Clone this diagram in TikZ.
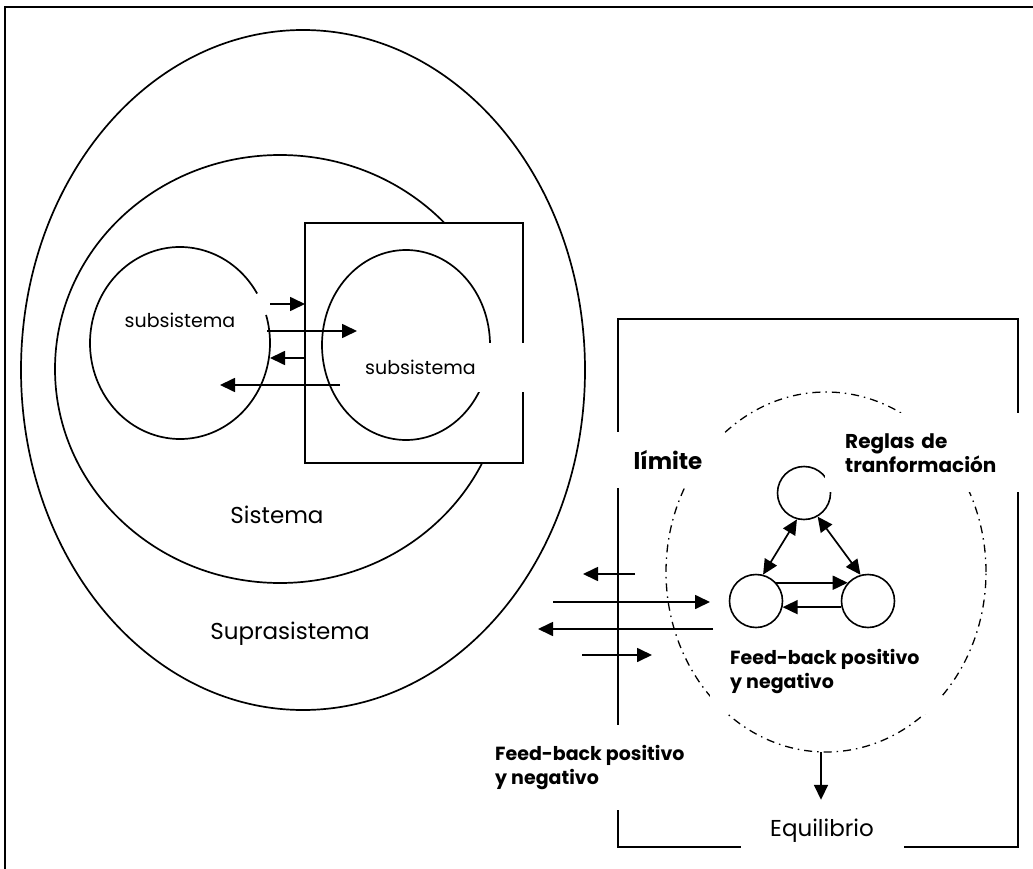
\documentclass[tikz,border=0pt]{standalone}
\usepackage{fontspec}
\setmainfont{Poppins}
\usetikzlibrary{arrows.meta}

\begin{document}
\begin{tikzpicture}[x=1pt, y=-1pt,
    thickline/.style={line width=1.7pt},
    flow/.style={line width=1.7pt, -{Triangle[length=15pt, width=14pt]}},
    twoway/.style={line width=1.7pt, {Triangle[length=15pt, width=14pt]}-{Triangle[length=15pt, width=14pt]}},
    ring/.style={draw, circle, line width=1.6pt, minimum size=53pt, inner sep=0pt},
    limitline/.style={line width=1.3pt, dash pattern=on 8pt off 5pt on 1.5pt off 5pt},
    labelbox/.style={fill=white, inner sep=20pt, align=left, font=\bfseries\fontsize{20}{24}\selectfont},
    fbtext/.style={font=\bfseries\fontsize{19}{24}\selectfont},
    bigtext/.style={font=\fontsize{23}{28}\selectfont},
    smalltext/.style={font=\fontsize{19}{22}\selectfont}
  ]
  \useasboundingbox (0,0) rectangle (1033,869);
  % frame
  \draw[line width=2pt] (5,869) -- (5,7) -- (1033,7);

  % suprasistema and sistema
  \draw[thickline] (303,370) ellipse [x radius=282pt, y radius=340pt];
  \draw[thickline] (280,369) ellipse [x radius=225pt, y radius=214pt];
  \node[bigtext] (supra) at (290,634) {Suprasistema};
  \node[bigtext] (sist) at (277,515) {Sistema};

  % the two subsistemas
  \draw[thickline, fill=white] (305,223) rectangle (523,463);
  \draw[thickline] ([shift={(31:90pt and 96pt)}]180,343)
    arc[start angle=31, end angle=377, x radius=90pt, y radius=96pt];
  \draw[thickline] (406,345) ellipse [x radius=84pt, y radius=95pt];
  \node[smalltext] (sub1) at (180,320) {subsistema};
  \node[smalltext, fill=white, anchor=west, text width=143pt, inner xsep=20pt,
        minimum height=49pt] (sub2) at (345,367) {subsistema};

  \foreach \ya/\xa/\xb in {304/270/305, 331/267/357, 358/305/270, 385/340/220}
    \draw[flow] (\xa,\ya) -- (\xb,\ya);

  % right system with its limit
  \draw[thickline] (618,319) rectangle (1018,847);
  \draw[limitline] (826,572) ellipse [x radius=160pt, y radius=180pt];
  \node[ring] (rtop)   at (804,493) {};
  \node[ring] (rleft)  at (756,601) {};
  \node[ring] (rright) at (868,601) {};

  \node[labelbox, font=\bfseries\fontsize{23}{28}\selectfont, inner sep=0pt,
        minimum width=113pt, minimum height=56pt] (lim) at (668,460) {límite};
  \node[labelbox, anchor=north west, text width=170pt] (rules) at (825,413)
    {Reglas de\\tranformación};
  \node[labelbox, fbtext, anchor=north west] (fbin) at (710,629)
    {Feed-back positivo\\y negativo};
  \node[labelbox, fbtext, anchor=north west] (fbout) at (475,725)
    {Feed-back positivo\\y negativo};
  \node[bigtext, fill=white, minimum width=163pt, minimum height=62pt] (equil)
    at (822,831) {Equilibrio};

  \draw[twoway] (rtop.-105) -- (rleft.75);
  \draw[twoway] (rtop.-60) -- (rright.106);
  \draw[flow] (rleft.42) -- (rright.138);
  \draw[flow] (rright.-167) -- (rleft.-13);

  \foreach \ya/\xa/\xb in {574/635/583, 602/553/710, 629/713/538, 655/582/652}
    \draw[flow] (\xa,\ya) -- (\xb,\ya);

  \coordinate (base) at (821,752);
  \draw[flow] (base) -- (base |- equil.north);
\end{tikzpicture}
\end{document}
